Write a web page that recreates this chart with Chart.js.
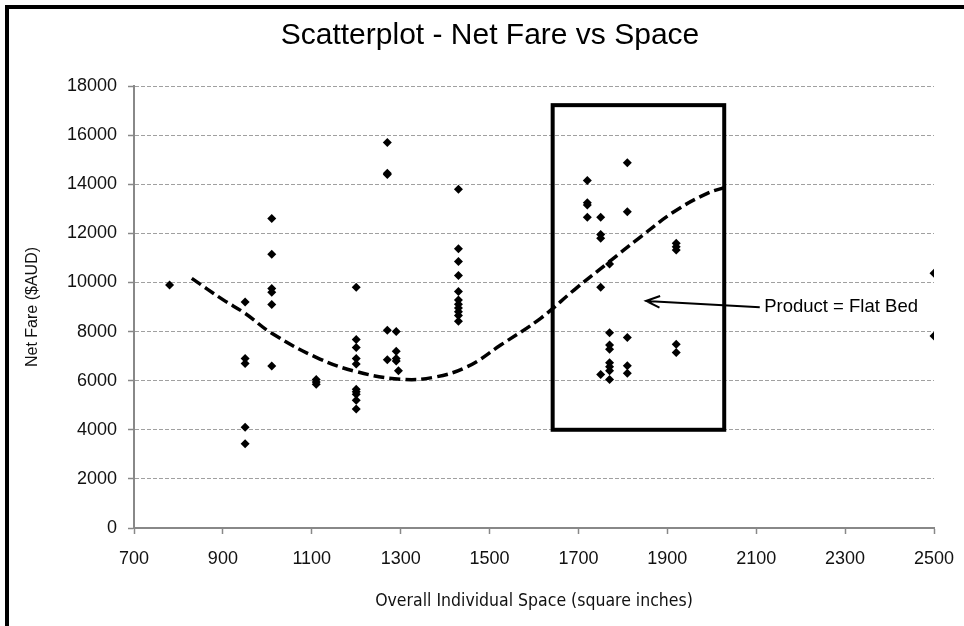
<!DOCTYPE html>
<html>
<head>
<meta charset="utf-8">
<title>Scatterplot - Net Fare vs Space</title>
<script src="https://cdn.jsdelivr.net/npm/chart.js@4.4.1/dist/chart.umd.min.js"></script>
<style>
  html, body { margin: 0; padding: 0; background: #fff; overflow: hidden; }
  #wrap { position: relative; width: 964px; height: 626px; overflow: hidden; }
  #frame { position: absolute; left: 5px; top: 5px; width: 1000px; height: 700px; border: 4px solid #000; }
  #myChart { position: absolute; left: 0; top: 0; }
</style>
</head>
<body>
<div id="wrap">
  <div id="frame"></div>
  <canvas id="myChart" width="964" height="626"></canvas>
</div>
<script>
// seat space (sq in) and the fares seen at each space
const spaces = [780, 950, 1010, 1110, 1200, 1270, 1290, 1295, 1430, 1720, 1750, 1770, 1810, 1920, 2500];
const faresBySpace = [
    [9900],
    [9200, 6900, 6700, 4100, 3430],
    [12600, 11150, 9750, 9600, 9100, 6600],
    [6050, 5950, 5850],
    [9800, 7680, 7350, 6900, 6680, 5650, 5550, 5450, 5200, 4850],
    [15700, 14450, 14400, 8050, 6850],
    [8000, 7200, 6900, 6800],
    [6400],
    [13800, 11370, 10850, 10280, 9630, 9280, 9110, 8960, 8810, 8650, 8420],
    [14150, 13250, 13150, 12650],
    [12650, 11950, 11800, 9800, 6250],
    [10750, 7950, 7450, 7280, 6730, 6570, 6400, 6050],
    [14870, 12880, 7760, 6610, 6300],
    [11600, 11450, 11320, 7480, 7150],
    [10370, 7820]
];

// trend line
const trendX = [830, 900, 950, 1010, 1110, 1200, 1300, 1375, 1450, 1525, 1615, 1690, 1765, 1840, 1915, 1990, 2030];
const trendY = [10165, 9300, 8740, 7930, 6950, 6370, 6060, 6140, 6570, 7450, 8540, 9690, 10780, 11860, 12880, 13630, 13870];

const xTicks = [700, 900, 1100, 1300, 1500, 1700, 1900, 2100, 2300, 2500];
const yTicks = [0, 2000, 4000, 6000, 8000, 10000, 12000, 14000, 16000, 18000];

const flatBedLabel = 'Product = Flat Bed';
const flatBedBox = {xMin: 1642, xMax: 2028, yMin: 4000, yMax: 17220};
const flatBedArrow = {fromX: 2108, fromY: 8988, toX: 1852, toY: 9244, textX: 2118, textY: 9012};

let points = []
spaces.forEach((s, i) => {
    faresBySpace[i].forEach((f) => {
        points.push({x: s, y: f})
    })
})
const trend = trendX.map((x, i) => ({x: x, y: trendY[i]}))

const flatBedPlugin = {
    id: 'flatBed',
    afterDatasetsDraw(chart) {
        const ctx = chart.ctx
        const xs = chart.scales.x
        const ys = chart.scales.y
        ctx.save()
        ctx.strokeStyle = '#000'
        ctx.lineWidth = 4
        const l = xs.getPixelForValue(flatBedBox.xMin)
        const r = xs.getPixelForValue(flatBedBox.xMax)
        const t = ys.getPixelForValue(flatBedBox.yMax)
        const b = ys.getPixelForValue(flatBedBox.yMin)
        ctx.strokeRect(l, t, r - l, b - t)

        // arrow
        const x1 = xs.getPixelForValue(flatBedArrow.fromX)
        const y1 = ys.getPixelForValue(flatBedArrow.fromY)
        const x2 = xs.getPixelForValue(flatBedArrow.toX)
        const y2 = ys.getPixelForValue(flatBedArrow.toY)
        ctx.lineWidth = 2
        ctx.beginPath()
        ctx.moveTo(x1, y1)
        ctx.lineTo(x2, y2)
        const ang = Math.atan2(y1 - y2, x1 - x2)
        const head = 15
        ctx.moveTo(x2 + head * Math.cos(ang - 0.4), y2 + head * Math.sin(ang - 0.4))
        ctx.lineTo(x2, y2)
        ctx.lineTo(x2 + head * Math.cos(ang + 0.4), y2 + head * Math.sin(ang + 0.4))
        ctx.stroke()

        ctx.fillStyle = '#000'
        ctx.font = '18.5px "Liberation Sans", Arial, sans-serif'
        ctx.textAlign = 'left'
        ctx.textBaseline = 'middle'
        ctx.fillText(flatBedLabel, xs.getPixelForValue(flatBedArrow.textX), ys.getPixelForValue(flatBedArrow.textY))
        ctx.restore()
    }
}

const data = {
    datasets: [{
        type: 'line',
        label: 'Trend',
        data: trend,
        borderColor: '#000',
        borderWidth: 3.5,
        borderDash: [11, 5],
        pointRadius: 0,
        tension: 0.4,
        fill: false
    }, {
        type: 'scatter',
        label: 'Net Fare',
        data: points,
        pointStyle: 'rectRot',
        pointRadius: 4.5,
        backgroundColor: '#000',
        borderColor: '#000',
        borderWidth: 0
    }]
};

const config = {
    type: 'scatter',
    data: data,
    plugins: [flatBedPlugin],
    options: {
        responsive: false,
        animation: false,
        layout: {padding: {left: 16, right: 0, top: 0, bottom: 0}},
        plugins: {
            legend: {display: false},
            tooltip: {enabled: false},
            title: {
                display: true,
                text: 'Scatterplot - Net Fare vs Space',
                color: '#000',
                font: {family: '"Liberation Sans", Arial, sans-serif', size: 30, weight: 'normal'},
                padding: {top: 18, bottom: 32}
            }
        },
        scales: {
            x: {
                type: 'linear',
                min: 700,
                max: 2500,
                afterBuildTicks: (scale) => { scale.ticks = xTicks.map(v => ({value: v})) },
                afterFit: (scale) => {
                    scale.height = 98
                    scale.paddingLeft = 0
                    scale.paddingRight = 30
                },
                ticks: {
                    color: '#111',
                    font: {family: '"Liberation Sans", Arial, sans-serif', size: 18},
                    padding: 14,
                    maxRotation: 0,
                    callback: (v) => String(v)
                },
                grid: {drawOnChartArea: false, drawTicks: true, tickLength: 6, tickColor: '#888', tickWidth: 1.5},
                border: {color: '#888', width: 2},
                title: {
                    display: true,
                    text: 'Overall Individual Space (square inches)',
                    color: '#111',
                    font: {family: '"Liberation Sans Narrow", "DejaVu Sans Condensed", sans-serif', size: 17.5},
                    padding: {top: 0, bottom: 14.5}
                }
            },
            y: {
                min: 0,
                max: 18000,
                afterBuildTicks: (scale) => { scale.ticks = yTicks.map(v => ({value: v})) },
                afterFit: (scale) => {
                    scale.width = 118
                    scale.paddingTop = 0
                    scale.paddingBottom = 0
                },
                ticks: {
                    color: '#111',
                    font: {family: '"Liberation Sans", Arial, sans-serif', size: 18},
                    padding: 11,
                    callback: (v) => String(v)
                },
                grid: {color: '#a0a0a0', lineWidth: 1, drawTicks: true, tickLength: 6, tickColor: '#888', tickWidth: 1.5},
                border: {color: '#888', width: 2, dash: [4, 2]},
                title: {
                    display: true,
                    text: 'Net Fare ($AUD)',
                    color: '#111',
                    font: {family: '"Liberation Sans", Arial, sans-serif', size: 16},
                    padding: {top: 7.4, bottom: 0}
                }
            }
        }
    }
};

new Chart(
    document.getElementById('myChart'),
    config
);
</script>
</body>
</html>
